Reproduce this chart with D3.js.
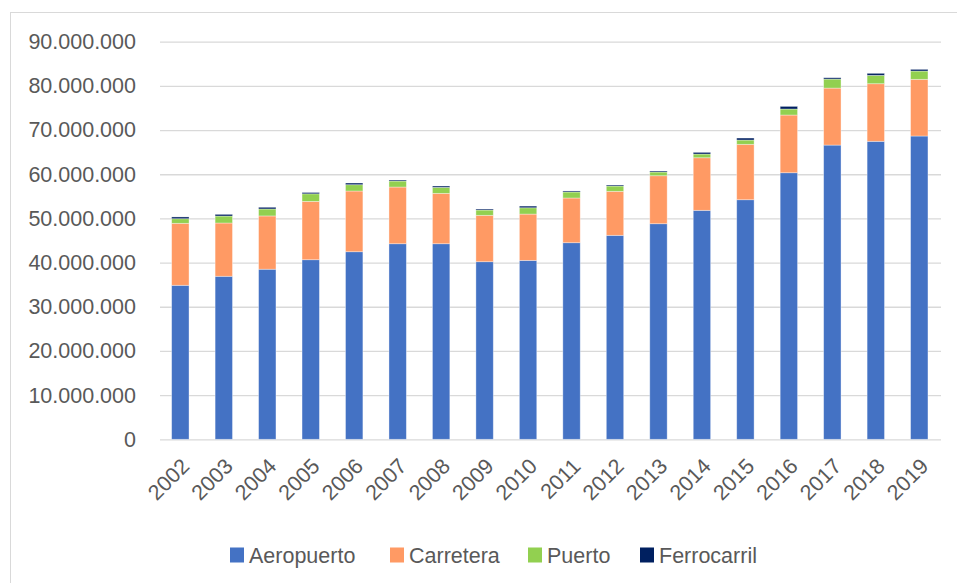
<!DOCTYPE html>
<html>
<head>
<meta charset="utf-8">
<script src="https://cdn.jsdelivr.net/npm/d3@7"></script>
<style>
  html, body { margin: 0; padding: 0; background: #fff; }
  svg { display: block; font-family: "Liberation Sans", Arial, sans-serif; }
</style>
</head>
<body>
<div id="chart"></div>
<script>
// Datos (pasajeros)
const years = ["2002", "2003", "2004", "2005", "2006", "2007", "2008", "2009", "2010",
  "2011", "2012", "2013", "2014", "2015", "2016", "2017", "2018", "2019"];
const aeropuerto = [34860000, 36900000, 38500000, 40650000, 42460000, 44270000, 44270000, 40200000, 40500000,
  44500000, 46170000, 48800000, 51830000, 54230000, 60340000, 66600000, 67450000, 68650000];
const carretera = [14030000, 12060000, 12060000, 13200000, 13740000, 12830000, 11400000, 10500000, 10480000,
  10120000, 9960000, 10860000, 11900000, 12540000, 13060000, 12900000, 13040000, 12830000];
const puerto = [1040000, 1580000, 1580000, 1720000, 1430000, 1360000, 1360000, 1200000, 1430000,
  1360000, 1200000, 840000, 840000, 970000, 1360000, 2040000, 1900000, 1880000];
const ferrocarril = [400000, 380000, 380000, 300000, 380000, 230000, 300000, 230000, 380000,
  230000, 230000, 230000, 380000, 450000, 600000, 300000, 450000, 380000];
const yTicks = [0, 10000000, 20000000, 30000000, 40000000, 50000000, 60000000, 70000000, 80000000, 90000000];

const series = ["Aeropuerto", "Carretera", "Puerto", "Ferrocarril"];
const colors = ["#4472C4", "#FF9A64", "#92D050", "#002060"];

const width = 957, height = 583;
const margin = { top: 41.7, right: 16, bottom: 143.7, left: 158.6 };

const rows = years.map((y, i) => ({
  year: y,
  Aeropuerto: aeropuerto[i],
  Carretera: carretera[i],
  Puerto: puerto[i],
  Ferrocarril: ferrocarril[i]
}));

const stacked = d3.stack().keys(series)(rows);

const x = d3.scaleBand()
  .domain(years)
  .range([margin.left, width - margin.right])
  .paddingInner(0.6)
  .paddingOuter(0.3);

const y = d3.scaleLinear()
  .domain([0, 90000000])
  .range([height - margin.bottom, margin.top]);

const fmt = d3.formatLocale({ decimal: ",", thousands: ".", grouping: [3], currency: ["", ""] }).format(",d");

const svg = d3.select("#chart").append("svg")
  .attr("width", width)
  .attr("height", height);

// marco del gráfico
svg.append("rect")
  .attr("x", 10.5).attr("y", 12.5)
  .attr("width", width + 20).attr("height", height + 20)
  .attr("fill", "#fff")
  .attr("stroke", "#d9d9d9");

// eje Y con líneas de cuadrícula
svg.append("g")
  .attr("transform", `translate(${margin.left + 1.4},0)`)
  .call(d3.axisLeft(y).tickValues(yTicks).tickFormat(fmt)
    .tickSize(-(width - margin.right - margin.left - 1.4)).tickPadding(24))
  .call(g => g.select(".domain").remove())
  .call(g => g.selectAll(".tick line").attr("stroke", "#d9d9d9").attr("stroke-width", 1.3))
  .call(g => g.selectAll(".tick text")
    .attr("fill", "#595959")
    .style("font-size", "21.5px"));

// barras apiladas
svg.append("g")
  .selectAll("g")
  .data(stacked)
  .join("g")
  .attr("fill", (d, i) => colors[i])
  .selectAll("rect")
  .data(d => d)
  .join("rect")
  .attr("x", d => x(d.data.year))
  .attr("width", x.bandwidth())
  .attr("y", d => y(d[1]))
  .attr("height", d => y(d[0]) - y(d[1]))
  .attr("stroke", "#fff")
  .attr("stroke-opacity", 0.45)
  .attr("stroke-width", 0.8);

// eje X
svg.append("g")
  .attr("transform", `translate(0,${height - margin.bottom})`)
  .call(d3.axisBottom(x).tickSize(0).tickPadding(0))
  .call(g => g.select(".domain").remove())
  .selectAll("text")
  .attr("fill", "#595959")
  .style("font-size", "21.5px")
  .style("text-anchor", "end")
  .attr("dy", "0.35em")
  .attr("transform", "translate(5,23) rotate(-45)");

// leyenda
const legendX = [230, 390, 528, 640];
const legend = svg.append("g")
  .selectAll("g")
  .data(series)
  .join("g")
  .attr("transform", (d, i) => `translate(${legendX[i]},555)`);

legend.append("rect")
  .attr("x", 0).attr("y", -7.5)
  .attr("width", 14).attr("height", 15)
  .attr("fill", (d, i) => colors[i]);

legend.append("text")
  .attr("x", 19)
  .attr("dy", "0.35em")
  .attr("fill", "#595959")
  .style("font-size", "21.5px")
  .text(d => d);
</script>
</body>
</html>
